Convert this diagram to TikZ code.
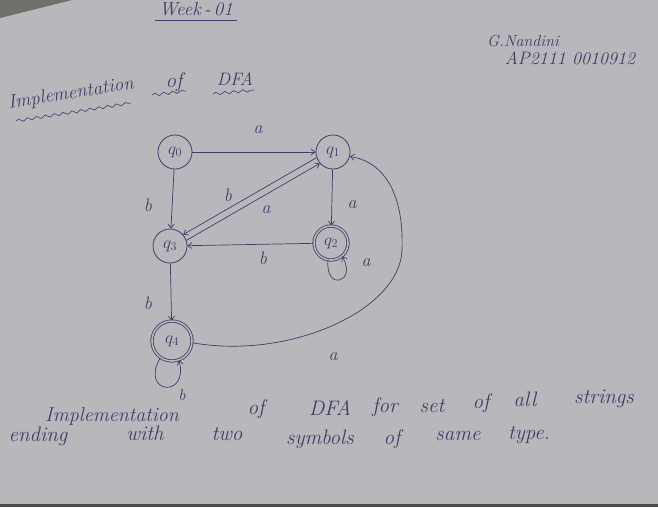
\documentclass[tikz,border=0pt]{standalone}
\usetikzlibrary{arrows.meta,decorations.pathmorphing,calc}
\definecolor{paper}{RGB}{184,184,188}
\definecolor{paperdark}{RGB}{112,112,108}
\definecolor{ink}{RGB}{62,62,104}
\tikzset{
  st/.style={circle,draw=ink,line width=0.8pt,minimum size=34pt,inner sep=0pt,text=ink,font=\fontsize{17}{19}\selectfont},
  acc/.style={st,double=paper,double distance=1.6pt},
  tr/.style={draw=ink,line width=0.7pt,-{Straight Barb[length=4pt,width=6pt]}},
  lbl/.style={text=ink,font=\itshape\fontsize{18}{20}\selectfont,inner sep=1pt},
  hw/.style={text=ink,font=\itshape\fontsize{21}{24}\selectfont,inner sep=0pt,anchor=base},
  wavy/.style={draw=ink,line width=0.6pt,decorate,decoration={snake,amplitude=1.4pt,segment length=9pt}}
}
\begin{document}
\begin{tikzpicture}[x=1pt,y=-1pt]
\fill[paper] (0,0) rectangle (658,507);
\useasboundingbox (0,0) rectangle (658,507);
\fill[paperdark] (0,0) -- (72,0) -- (0,18) -- cycle;
\fill[black!70] (0,504) rectangle (658,507);

% header
\node[hw,font=\itshape\fontsize{19}{22}\selectfont] (week) at (196,15) {Week\,-\,01};
\draw[ink,line width=0.6pt] (155,20) -- (237,20);
\node[hw,font=\itshape\fontsize{16}{18}\selectfont] (name) at (523,46) {G.Nandini};
\node[hw,font=\itshape\fontsize{18}{20}\selectfont] (roll) at (570,64) {AP2111 0010912};
\node[hw,rotate=9,anchor=center,font=\itshape\fontsize{19}{22}\selectfont] (imp) at (71,94) {Implementation};
\node[hw,anchor=center] (of1) at (174,82) {of};
\node[hw,anchor=center,font=\itshape\fontsize{18}{20}\selectfont] (dfa1) at (235,79) {DFA};
\draw[wavy] (16,121) -- (131,103);
\draw[wavy] (152,95) -- (186,91);
\draw[wavy] (213,94) -- (254,90);

% states
\node[st] (q0) at (175,152) {$q_0$};
\node[st] (q1) at (333,152) {$q_1$};
\node[acc] (q2) at (331,243) {$q_2$};
\node[st] (q3) at (170,246) {$q_3$};
\node[acc,minimum size=40pt] (q4) at (172,341) {$q_4$};

% transitions
\draw[tr] (q0) -- (q1);
\node[lbl] (la1) at (258,130) {a};
\draw[tr] (q0) -- (q3);
\node[lbl] (lb1) at (148,205) {b};
\draw[tr] (q1.199) -- (q3.41);
\node[lbl] (lb2) at (228,195) {b};
\draw[tr] (q3.19) -- (q1.221);
\node[lbl] (la2) at (266,210) {a};
\draw[tr] (q1) -- (q2);
\node[lbl] (la3) at (352,205) {a};
\draw[tr] (q2) -- (q3);
\node[lbl] (lb3) at (263,258) {b};
\draw[tr] (q2.-100) .. controls +(95:32) and +(60:30) .. (q2.-50);
\node[lbl] (la4) at (366,263) {a};
\draw[tr] (q3) -- (q4);
\node[lbl] (lb4) at (148,303) {b};
\draw[tr] (q4.-125) .. controls +(120:42) and +(75:40) .. (q4.-70);
\node[lbl,font=\itshape\fontsize{16}{18}\selectfont] (lb5) at (182,395) {b};
\draw[tr] (q4.-5) .. controls (290,360) and (400,310) .. (402,250)
  .. controls (404,195) and (385,162) .. (q1.-15);
\node[lbl] (la5) at (333,357) {a};

% bottom text
\node[hw,font=\itshape\fontsize{20}{24}\selectfont] (w1) at (112,421) {Implementation};
\node[hw] (w2) at (256,414) {of};
\node[hw] (w3) at (330,415) {DFA};
\node[hw] (w4) at (385,412) {for};
\node[hw] (w5) at (432,412) {set};
\node[hw] (w6) at (481,408) {of};
\node[hw] (w7) at (525,406) {all};
\node[hw] (w8) at (604,403) {strings};
\node[hw] (w9) at (38,441) {ending};
\node[hw] (w10) at (145,440) {with};
\node[hw] (w11) at (227,440) {two};
\node[hw] (w12) at (320,444) {symbols};
\node[hw] (w13) at (392,444) {of};
\node[hw] (w14) at (458,440) {same};
\node[hw] (w15) at (529,439) {type.};
\end{tikzpicture}
\end{document}
